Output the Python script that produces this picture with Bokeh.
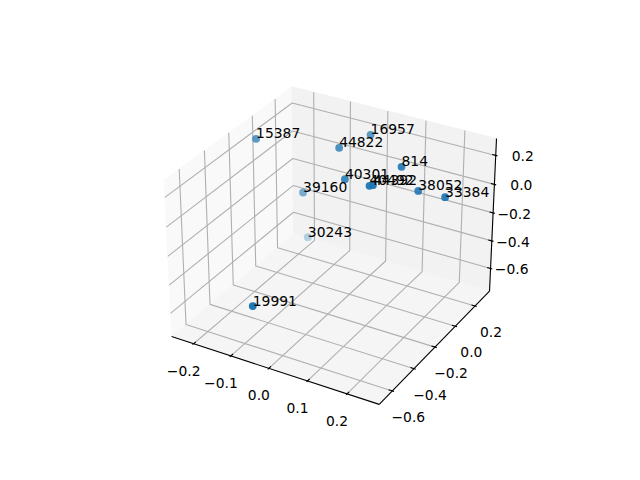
import numpy as np
from bokeh.plotting import figure
from bokeh.models import Range1d
from bokeh.core.properties import value
from bokeh.embed import file_html
from bokeh.resources import INLINE

# Data
labels = ["15387", "39160", "30243", "19991", "16957", "44822", "814", "40301", "40492", "44392", "38052", "33384"]
xs = [-0.218, -0.137, -0.176, -0.058, 0.001, -0.038, 0.126, 0.009, 0.086, 0.092, 0.172, 0.238]
ys = [-0.103, 0.040, 0.209, -0.657, 0.186, 0.033, 0.024, -0.077, -0.125, -0.116, 0.015, 0.021]
zs = [0.245, -0.162, -0.628, -0.424, 0.249, 0.225, 0.216, 0.111, 0.152, 0.155, 0.091, 0.093]
x_ticks = [-0.2, -0.1, 0.0, 0.1, 0.2]
y_ticks = [-0.6, -0.4, -0.2, 0.0, 0.2]
z_ticks = [-0.6, -0.4, -0.2, 0.0, 0.2]
x_lim = (-0.2492, 0.2692)
y_lim = (-0.6956, 0.3306)
z_lim = (-0.7454, 0.2934)

lims = np.array([x_lim, y_lim, z_lim])
pad = (lims[:, 1] - lims[:, 0]) / 48
lo, hi = lims[:, 0] - pad, lims[:, 1] + pad

# Same camera as a default 3D view: elevation 30, azimuth -60, distance 10
asp = np.array([4.0, 4.0, 3.0])
asp = asp * 1.8294640721620434 / np.linalg.norm(asp)
el, az = np.radians(30), np.radians(-60)
w = np.array([np.cos(el) * np.cos(az), np.cos(el) * np.sin(az), np.sin(el)])
eye = asp / 2 + 10 * w
u = np.cross([0, 0, 1], w)
u = u / np.linalg.norm(u)
v = np.cross(w, u)
SIDE, LEFT, BOTTOM = 369.6, 143.2, 427.2


def project(x, y, z):
    wp = (np.array([x, y, z], float) - lims[:, 0]) / (lims[:, 1] - lims[:, 0]) * asp
    q = wp - eye
    d = -(q @ w)
    return (LEFT + ((q @ u) / d + 0.095) / 0.185 * SIDE,
            BOTTOM - ((q @ v) / d + 0.095) / 0.185 * SIDE, d)


def path(points):
    pr = [project(*pt) for pt in points]
    return [a[0] for a in pr], [a[1] for a in pr]


p = figure(width=624, height=464, x_range=Range1d(0, 624), y_range=Range1d(464, 0),
           x_axis_type=None, y_axis_type=None, toolbar_location=None,
           output_backend="svg", min_border=0, outline_line_color=None,
           background_fill_color="white", border_fill_color="white")
p.grid.visible = False

# panes
panes = [
    ([(lo[0], lo[1], lo[2]), (lo[0], hi[1], lo[2]), (lo[0], hi[1], hi[2]), (lo[0], lo[1], hi[2])], "#f9f9f9"),
    ([(lo[0], hi[1], lo[2]), (hi[0], hi[1], lo[2]), (hi[0], hi[1], hi[2]), (lo[0], hi[1], hi[2])], "#f2f2f2"),
    ([(lo[0], lo[1], lo[2]), (hi[0], lo[1], lo[2]), (hi[0], hi[1], lo[2]), (lo[0], hi[1], lo[2])], "#f5f5f5"),
]
for corners, col in panes:
    a, b = path(corners)
    p.patch(a, b, fill_color=col, line_color=col, line_width=1)

# grid
gx, gy = [], []
for t in x_ticks:
    a, b = path([(t, lo[1], lo[2]), (t, hi[1], lo[2]), (t, hi[1], hi[2])])
    gx.append(a); gy.append(b)
for t in y_ticks:
    a, b = path([(hi[0], t, lo[2]), (lo[0], t, lo[2]), (lo[0], t, hi[2])])
    gx.append(a); gy.append(b)
for t in z_ticks:
    a, b = path([(lo[0], lo[1], t), (lo[0], hi[1], t), (hi[0], hi[1], t)])
    gx.append(a); gy.append(b)
p.multi_line(gx, gy, line_color="#b0b0b0", line_width=1.11)

# axis lines
for pts in ([(lo[0], lo[1], lo[2]), (hi[0], lo[1], lo[2])],
            [(hi[0], lo[1], lo[2]), (hi[0], hi[1], lo[2])],
            [(hi[0], hi[1], lo[2]), (hi[0], hi[1], hi[2])]):
    a, b = path(pts)
    p.line(a, b, line_color="black", line_width=1.11)

# ticks
dl = (hi - lo) / 12
tx, ty = [], []
for t in x_ticks:
    a, b = path([(t, lo[1] + 0.2 * dl[1], lo[2]), (t, lo[1] - 0.1 * dl[1], lo[2])])
    tx.append(a); ty.append(b)
for t in y_ticks:
    a, b = path([(hi[0] - 0.2 * dl[0], t, lo[2]), (hi[0] + 0.1 * dl[0], t, lo[2])])
    tx.append(a); ty.append(b)
for t in z_ticks:
    a, b = path([(hi[0] - 0.2 * dl[0], hi[1], t), (hi[0] + 0.1 * dl[0], hi[1], t)])
    tx.append(a); ty.append(b)
p.multi_line(tx, ty, line_color="black", line_width=1.11)


def fmt(t):
    return f"{t:.1f}".replace("-", "\u2212")


font = value("DejaVu Sans")
FS = "13.89px"
for ticks, base, off, align in (
    (x_ticks, lambda t: (t, lo[1], lo[2]), (-10, 27), "center"),
    (y_ticks, lambda t: (hi[0], t, lo[2]), (16, 26), "center"),
    (z_ticks, lambda t: (hi[0], hi[1], t), (38, 1), "right"),
):
    lx, ly = [], []
    for t in ticks:
        a, b, _ = project(*base(t))
        lx.append(a); ly.append(b)
    p.text(lx, ly, text=[fmt(t) for t in ticks], x_offset=off[0], y_offset=off[1],
           text_font=font, text_font_size=FS, text_color="black",
           text_align=align, text_baseline="middle")

# points, shaded by distance from the camera
pr = [project(x, y, z) for x, y, z in zip(xs, ys, zs)]
px = np.array([a[0] for a in pr]); py = np.array([a[1] for a in pr]); pd = np.array([a[2] for a in pr])
alpha = 1 - 0.7 * (pd - pd.min()) / (pd.max() - pd.min())
order = np.argsort(-pd)
p.scatter(px[order], py[order], size=7.8, marker="circle", fill_color="#1f77b4", line_color=None,
          fill_alpha=alpha[order])
p.text(px, py, text=labels, y_offset=-5.5, text_font=font, text_font_size=FS, text_color="black",
       text_align="left", text_baseline="alphabetic")

open("out.html", "w").write(file_html(p, INLINE))
